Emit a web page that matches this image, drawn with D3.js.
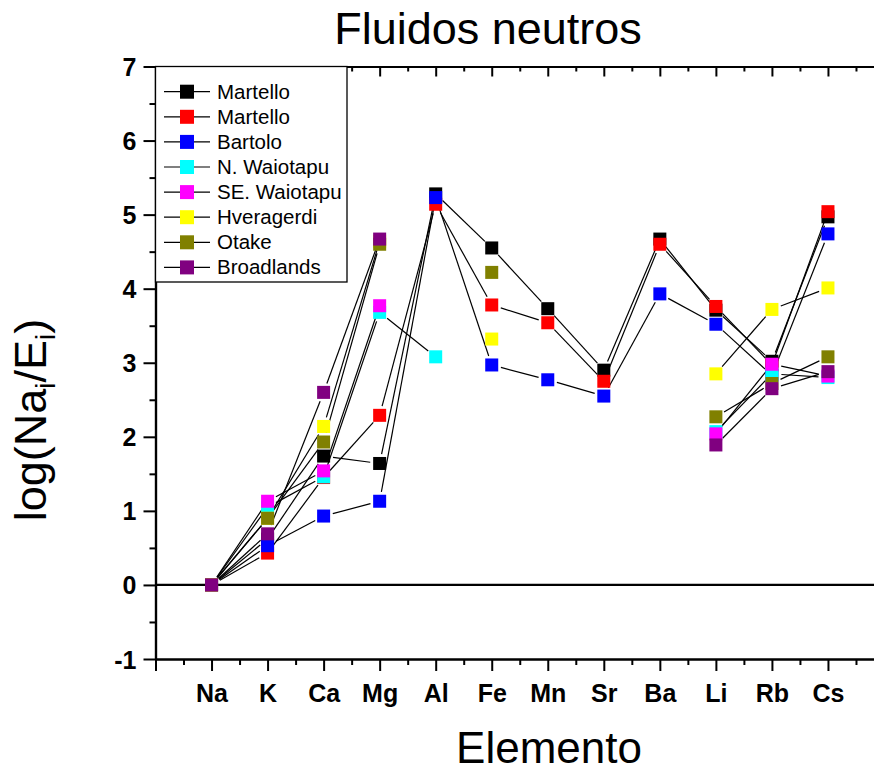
<!DOCTYPE html>
<html>
<head>
<meta charset="utf-8">
<script src="https://cdn.jsdelivr.net/npm/d3@7"></script>
<style>
  body { margin: 0; background: #fff; }
  svg { display: block; font-family: "Liberation Sans", Arial, sans-serif; }
</style>
</head>
<body>
<div id="chart"></div>
<script>
const categories = ["Na", "K", "Ca", "Mg", "Al", "Fe", "Mn", "Sr", "Ba", "Li", "Rb", "Cs"];

// log(Na_i/E_i) per element, null = no data
const martello1  = [0, 0.62, 1.74, 1.64, 5.28, 4.55, 3.73, 2.90, 4.67, 3.71, 3.02, 4.97];
const martello2  = [0, 0.43, 1.45, 2.29, 5.14, 3.78, 3.54, 2.75, 4.60, 3.76, 2.97, 5.04];
const bartolo    = [0, 0.53, 0.93, 1.13, 5.23, 2.97, 2.77, 2.55, 3.93, 3.52, 2.83, 4.74];
const nWaiotapu  = [0, 1.05, 1.46, 3.68, 3.08, null, null, null, null, 2.07, 2.85, 2.80];
const seWaiotapu = [0, 1.13, 1.54, 3.77, null, null, null, null, null, 2.04, 2.98, 2.82];
const hveragerdi = [0, 0.90, 2.14, 4.64, null, 3.32, null, null, null, 2.85, 3.72, 4.01];
const otake      = [0, 0.90, 1.93, 4.60, null, 4.22, null, null, null, 2.27, 2.72, 3.08];
const broadlands = [0, 0.69, 2.60, 4.67, null, null, null, null, null, 1.89, 2.65, 2.88];

const seriesNames  = ["Martello", "Martello", "Bartolo", "N. Waiotapu", "SE. Waiotapu", "Hveragerdi", "Otake", "Broadlands"];
const seriesValues = [martello1, martello2, bartolo, nWaiotapu, seWaiotapu, hveragerdi, otake, broadlands];
const seriesColors = ["#000000", "#ff0000", "#0000ff", "#00ffff", "#ff00ff", "#ffff00", "#808000", "#800080"];

const width = 874;
const height = 774;

const svg = d3.select("#chart")
    .append("svg")
    .attr("width", width)
    .attr("height", height);

const x = d3.scaleLinear().domain([0, 13]).range([155.5, 884]);
const y = d3.scaleLinear().domain([-1, 7]).range([659, 66.5]);

const MARK = 13;
const GAP = 9.5;

// AXES
const xMajor = d3.range(0, 14);
const xMinor = d3.range(0.5, 13, 1);
const yMajor = d3.range(-1, 8);
const yMinor = d3.range(-0.5, 7, 1);

function styleAxis(g) {
    g.selectAll("path.domain").attr("stroke-width", 2.2);
    g.selectAll(".tick line").attr("stroke-width", 2);
}

// bottom
svg.append("g")
    .attr("transform", `translate(0,${y(-1)})`)
    .call(d3.axisBottom(x).tickValues(xMinor).tickSize(6).tickFormat("").tickSizeOuter(0))
    .call(styleAxis);
const xAxisG = svg.append("g")
    .attr("transform", `translate(0,${y(-1)})`)
    .call(d3.axisBottom(x).tickValues(xMajor).tickSize(12).tickSizeOuter(0)
        .tickFormat(d => categories[d - 1] || ""))
    .call(styleAxis);
xAxisG.selectAll("text")
    .attr("font-size", 25)
    .attr("font-weight", "bold")
    .attr("font-family", "Liberation Sans, Arial, sans-serif")
    .attr("fill", "#000")
    .attr("dy", "1.1em");

// top (inward ticks)
svg.append("g")
    .attr("transform", `translate(0,${y(7)})`)
    .call(d3.axisBottom(x).tickValues(xMinor).tickSize(5).tickFormat("").tickSizeOuter(0))
    .call(styleAxis);
svg.append("g")
    .attr("transform", `translate(0,${y(7)})`)
    .call(d3.axisBottom(x).tickValues(xMajor).tickSize(10).tickFormat("").tickSizeOuter(0))
    .call(styleAxis);

// left
svg.append("g")
    .attr("transform", `translate(${x(0)},0)`)
    .call(d3.axisLeft(y).tickValues(yMinor).tickSize(6).tickFormat("").tickSizeOuter(0))
    .call(styleAxis);
const yAxisG = svg.append("g")
    .attr("transform", `translate(${x(0)},0)`)
    .call(d3.axisLeft(y).tickValues(yMajor).tickSize(12).tickSizeOuter(0).tickFormat(d => String(d)))
    .call(styleAxis);
yAxisG.selectAll("text")
    .attr("font-size", 25)
    .attr("font-weight", "bold")
    .attr("font-family", "Liberation Sans, Arial, sans-serif")
    .attr("fill", "#000")
    .attr("x", -19)
    .attr("dy", "0.36em");

// right (inward ticks, mostly off-page)
svg.append("g")
    .attr("transform", `translate(${x(13)},0)`)
    .call(d3.axisLeft(y).tickValues(yMinor).tickSize(5).tickFormat("").tickSizeOuter(0))
    .call(styleAxis);
svg.append("g")
    .attr("transform", `translate(${x(13)},0)`)
    .call(d3.axisLeft(y).tickValues(yMajor).tickSize(10).tickFormat("").tickSizeOuter(0))
    .call(styleAxis);

// zero line
svg.append("line")
    .attr("x1", x(0)).attr("x2", x(13))
    .attr("y1", y(0)).attr("y2", y(0))
    .attr("stroke", "#000")
    .attr("stroke-width", 2.2);

// LINES (segments with a small gap at each marker)
const segLayer = svg.append("g");
seriesValues.forEach(vals => {
    for (let i = 0; i < vals.length - 1; i++) {
        if (vals[i] == null || vals[i + 1] == null) continue;
        const x1 = x(i + 1), y1 = y(vals[i]);
        const x2 = x(i + 2), y2 = y(vals[i + 1]);
        const len = Math.hypot(x2 - x1, y2 - y1);
        if (len <= 2 * GAP) continue;
        const ux = (x2 - x1) / len, uy = (y2 - y1) / len;
        segLayer.append("line")
            .attr("x1", x1 + ux * GAP).attr("y1", y1 + uy * GAP)
            .attr("x2", x2 - ux * GAP).attr("y2", y2 - uy * GAP)
            .attr("stroke", "#000")
            .attr("stroke-width", 1.2);
    }
});

// MARKERS
seriesValues.forEach((vals, s) => {
    const pts = vals.map((v, i) => ({ i, v })).filter(d => d.v != null);
    svg.append("g")
        .selectAll("rect")
        .data(pts)
        .enter()
        .append("rect")
        .attr("x", d => x(d.i + 1) - MARK / 2)
        .attr("y", d => y(d.v) - MARK / 2)
        .attr("width", MARK)
        .attr("height", MARK)
        .attr("fill", seriesColors[s]);
});

// LEGEND
const legend = svg.append("g");
legend.append("rect")
    .attr("x", x(0))
    .attr("y", y(7))
    .attr("width", 191.5)
    .attr("height", 215.5)
    .attr("fill", "#fff")
    .attr("stroke", "#000")
    .attr("stroke-width", 1.3);

const rows = legend.selectAll("g.row")
    .data(seriesNames)
    .enter()
    .append("g")
    .attr("class", "row")
    .attr("transform", (d, i) => `translate(0,${91.7 + i * 25.1})`);

rows.append("line")
    .attr("x1", 164).attr("x2", 210)
    .attr("y1", 0).attr("y2", 0)
    .attr("stroke", "#000")
    .attr("stroke-width", 1.2);
rows.append("rect")
    .attr("x", 187 - 7).attr("y", -7)
    .attr("width", 14).attr("height", 14)
    .attr("fill", (d, i) => seriesColors[i]);
rows.append("text")
    .attr("x", 217)
    .attr("y", 7)
    .attr("font-size", 20.5)
    .attr("fill", "#000")
    .text(d => d);

// TITLES
svg.append("text")
    .attr("x", 488)
    .attr("y", 44)
    .attr("text-anchor", "middle")
    .attr("font-size", 45)
    .text("Fluidos neutros");

svg.append("text")
    .attr("x", 549)
    .attr("y", 763)
    .attr("text-anchor", "middle")
    .attr("font-size", 44)
    .text("Elemento");

const yLabel = svg.append("text")
    .attr("transform", "translate(46,420) rotate(-90)")
    .attr("text-anchor", "middle")
    .attr("font-size", 45);
yLabel.append("tspan").text("log(Na");
yLabel.append("tspan").attr("font-size", 28).attr("dy", 9).text("i");
yLabel.append("tspan").attr("dy", -9).text("/E");
yLabel.append("tspan").attr("font-size", 28).attr("dy", 9).text("i");
yLabel.append("tspan").attr("dy", -9).text(")");
</script>
</body>
</html>
